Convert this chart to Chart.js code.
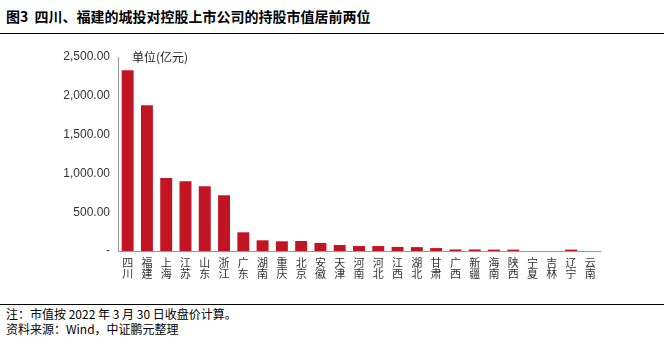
<!DOCTYPE html>
<html>
<head>
<meta charset="utf-8">
<script src="https://cdn.jsdelivr.net/npm/chart.js@4/dist/chart.umd.min.js"></script>
<style>
  body { margin: 0; background: #fff; width: 664px; height: 344px; position: relative; overflow: hidden; font-family: "Noto Sans CJK SC", sans-serif; }
  .title { position: absolute; left: 6px; top: 6px; font-size: 14px; font-weight: bold; color: #000; }
  .line { position: absolute; left: 0; width: 664px; height: 1px; background: #000; }
  .note { position: absolute; left: 6px; font-size: 12px; color: #000; }
  #wrap { position: absolute; left: 0; top: 0; width: 664px; height: 300px; }
</style>
</head>
<body>
<div class="title">图3&nbsp; 四川、福建的城投对控股上市公司的持股市值居前两位</div>
<div class="line" style="top:33px"></div>
<div id="wrap"><canvas id="chart"></canvas></div>
<div class="line" style="top:304px"></div>
<div class="note" style="top:305px">注：市值按 2022 年 3 月 30 日收盘价计算。</div>
<div class="note" style="top:320px">资料来源：Wind，中证鹏元整理</div>
<script>
const provinces = ['四川', '福建', '上海', '江苏', '山东', '浙江', '广东', '湖南', '重庆', '北京', '安徽', '天津', '河南',
  '河北', '江西', '湖北', '甘肃', '广西', '新疆', '海南', '陕西', '宁夏', '吉林', '辽宁', '云南'];
const marketValue = [2330, 1878, 941, 898, 834, 718, 241, 138, 125, 129, 103, 77, 64,
  64, 52, 50, 38, 20, 20, 18, 18, 0, 0, 18, 0];
const yTicks = [0, 500, 1000, 1500, 2000, 2500];

function fmt(v) {
  if (v === 0) return '-';
  return v.toLocaleString('en-US', { minimumFractionDigits: 2, maximumFractionDigits: 2 });
}

const unitLabel = {
  id: 'unitLabel',
  afterDraw(chart) {
    const ctx = chart.ctx;
    ctx.save();
    ctx.font = '12px "Noto Sans CJK SC"';
    ctx.fillStyle = '#222';
    ctx.textBaseline = 'middle';
    ctx.fillText('单位(亿元)', chart.chartArea.left + 14, chart.scales.y.getPixelForValue(2500));
    ctx.restore();
  }
};

const ctx = document.getElementById('chart').getContext('2d');
new Chart(ctx, {
  type: 'bar',
  data: {
    labels: provinces.map(p => p.split('')),
    datasets: [{
      data: marketValue,
      backgroundColor: '#C21524',
      categoryPercentage: 1,
      barPercentage: 0.62
    }]
  },
  options: {
    responsive: true,
    maintainAspectRatio: false,
    animation: false,
    layout: { padding: { top: 57, right: 64, left: 0, bottom: 0 } },
    plugins: { legend: { display: false }, tooltip: { enabled: false } },
    scales: {
      x: {
        grid: { display: false, drawTicks: false },
        border: { color: '#999' },
        ticks: {
          color: '#333',
          font: { size: 11, family: '"Noto Sans CJK SC"', lineHeight: 1.0 },
          maxRotation: 0, autoSkip: false, padding: 6
        },
        afterFit(scale) { scale.height = 49; }
      },
      y: {
        min: 0, max: 2500,
        grid: { display: false, drawTicks: false },
        border: { color: '#999' },
        afterBuildTicks(scale) { scale.ticks = yTicks.map(v => ({ value: v })); },
        ticks: {
          color: '#333',
          font: { size: 12, family: '"Liberation Sans"' },
          padding: 8,
          callback: v => fmt(v)
        },
        afterFit(scale) { scale.width = 118; }
      }
    }
  },
  plugins: [unitLabel]
});
</script>
</body>
</html>
